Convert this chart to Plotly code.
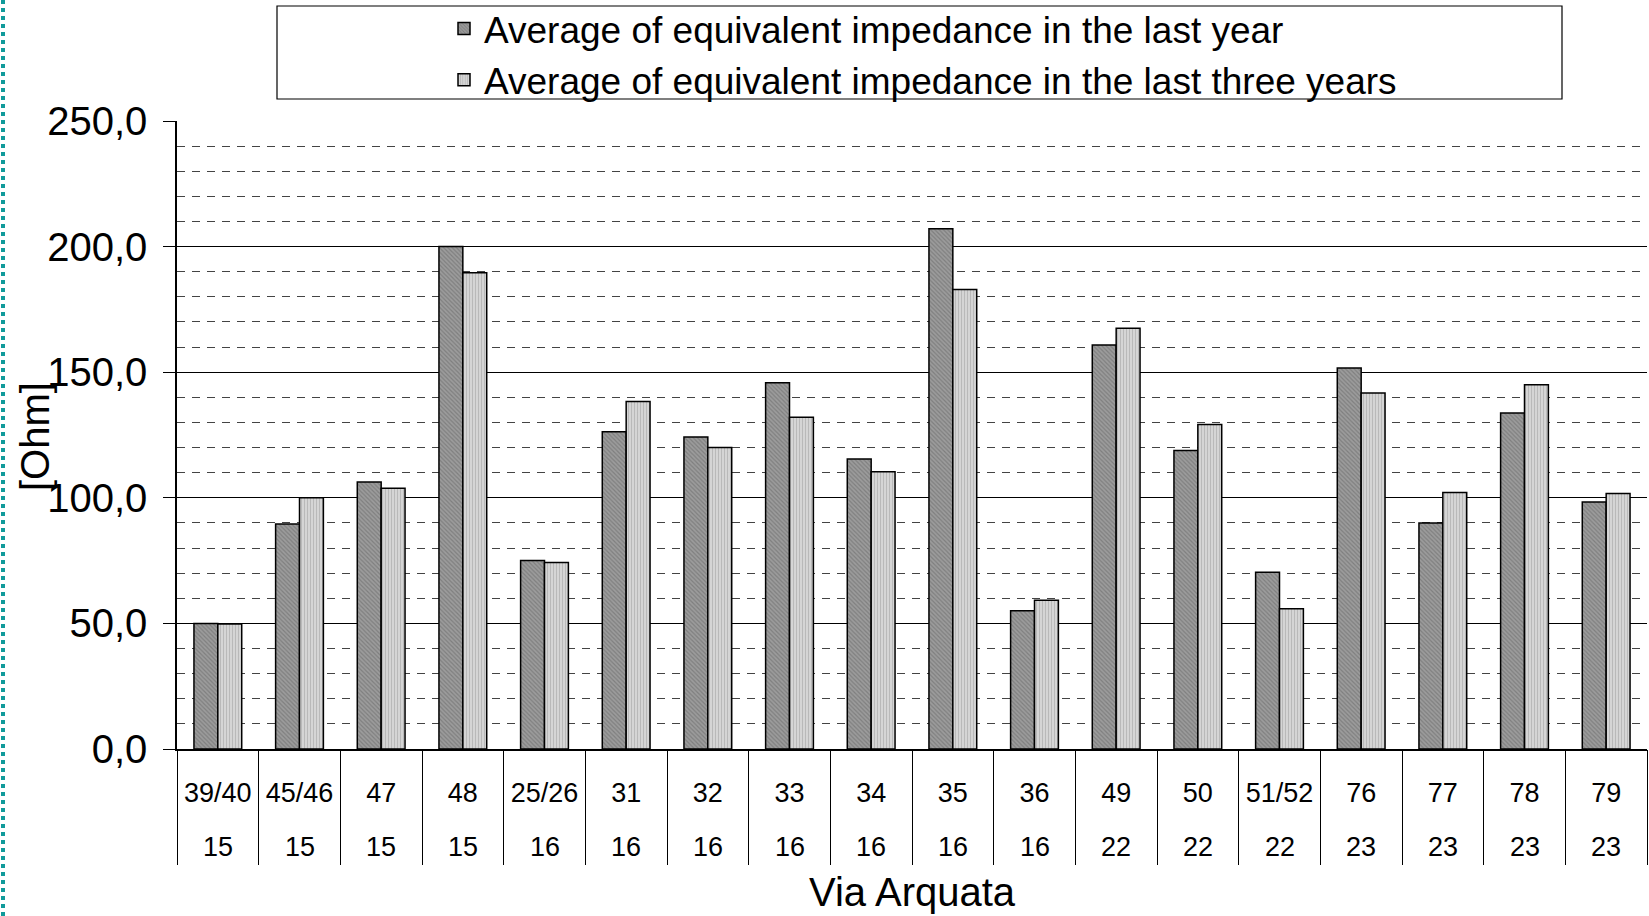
import plotly.graph_objects as go

# tower / span labels
towers = ["39/40", "45/46", "47", "48", "25/26", "31", "32", "33", "34",
          "35", "36", "49", "50", "51/52", "76", "77", "78", "79"]
lines = ["15", "15", "15", "15", "16", "16", "16", "16", "16",
         "16", "16", "22", "22", "22", "23", "23", "23", "23"]

last_year = [50.0, 89.6, 106.3, 200.0, 75.0, 126.3, 124.2, 145.8, 115.4,
             207.1, 55.0, 160.8, 118.8, 70.4, 151.7, 90.0, 133.8, 98.3]
last_three = [49.8, 100.0, 103.8, 189.6, 74.2, 138.3, 120.0, 132.1, 110.4,
              182.9, 59.2, 167.5, 129.2, 55.8, 141.7, 102.1, 145.0, 101.7]

name1 = "Average of equivalent impedance in the last year"
name2 = "Average of equivalent impedance in the last three years"

FONT = "Arial, Liberation Sans, sans-serif"
W, H = 1649, 916
L, R, T, B = 177, 2, 121, 167
pw, ph = W - L - R, H - T - B


def px_x(p):
    return (p - L) / pw


def px_y(p):
    return (H - B - p) / ph


fig = go.Figure()
fig.add_trace(go.Bar(
    x=towers, y=last_year, name=name1,
    marker=dict(color="#8a8a8a", line=dict(color="black", width=1.5),
                pattern=dict(shape="\\", size=3, solidity=0.4,
                             fgcolor="#626262", bgcolor="#9c9c9c")),
))
fig.add_trace(go.Bar(
    x=towers, y=last_three, name=name2,
    marker=dict(color="#c8c8c8", line=dict(color="black", width=1.5),
                pattern=dict(shape="|", size=3, solidity=0.4,
                             fgcolor="#9a9a9a", bgcolor="#d8d8d8")),
))
# invisible trace so the separator axis gets drawn
fig.add_trace(go.Scatter(
    x=towers, y=last_year, xaxis="x2", mode="markers",
    marker=dict(opacity=0), showlegend=False, hoverinfo="skip",
))

# second row of category labels (line numbers)
for i, l in enumerate(lines):
    fig.add_annotation(x=i, y=px_y(847), xref="x", yref="paper", text=l,
                       showarrow=False, yanchor="middle",
                       font=dict(family=FONT, size=27, color="black"))

fig.add_annotation(x=0.5, y=px_y(892), xref="paper", yref="paper",
                   text="Via Arquata", showarrow=False, yanchor="middle",
                   font=dict(family=FONT, size=40, color="black"))
fig.add_annotation(x=px_x(35), y=px_y(437), xref="paper", yref="paper",
                   text="[Ohm]", textangle=-90, showarrow=False,
                   xanchor="center", yanchor="middle",
                   font=dict(family=FONT, size=40, color="black"))

# legend frame and page edge
fig.add_shape(type="rect", xref="paper", yref="paper",
              x0=px_x(277), x1=px_x(1562), y0=px_y(99), y1=px_y(6),
              line=dict(color="black", width=1.2), fillcolor="white", layer="below")
fig.add_shape(type="line", xref="paper", yref="paper",
              x0=px_x(3), x1=px_x(3), y0=px_y(916), y1=px_y(0),
              line=dict(color="#109a9a", width=4, dash="4px,4px"))

fig.update_layout(
    width=W, height=H,
    margin=dict(l=L, r=R, t=T, b=B, autoexpand=False),
    paper_bgcolor="white", plot_bgcolor="white",
    separators=",.",
    barmode="group", bargap=0.415, bargroupgap=0,
    font=dict(family=FONT, color="black"),
    legend=dict(x=px_x(444), y=px_y(-2), xanchor="left", yanchor="top",
                bgcolor="rgba(0,0,0,0)", borderwidth=0,
                font=dict(family=FONT, size=37, color="black"),
                tracegroupgap=0),
    xaxis=dict(type="category", categoryarray=towers, range=[-0.5, 17.5],
               showline=True, linecolor="black", linewidth=1.5,
               ticks="", showgrid=False, ticklabelstandoff=19,
               tickfont=dict(family=FONT, size=27, color="black")),
    xaxis2=dict(type="category", categoryarray=towers, range=[-0.5, 17.5],
                overlaying="x", anchor="y", side="bottom",
                ticks="outside", tickson="boundaries", ticklen=115,
                tickcolor="black", tickwidth=1, showticklabels=False,
                showgrid=False, showline=False, zeroline=False),
    yaxis=dict(range=[0, 250], dtick=50, tickformat=".1f",
               showline=True, linecolor="black", linewidth=1.5,
               ticks="outside", ticklen=12, tickcolor="black",
               ticklabelstandoff=8,
               showgrid=True, gridcolor="black", gridwidth=1,
               zeroline=False,
               tickfont=dict(family=FONT, size=40, color="black"),
               minor=dict(dtick=10, showgrid=True, gridcolor="#444444",
                          gridwidth=1, griddash="8px,7px", ticks="")),
)

fig.write_html("out.html", config={"displayModeBar": False},
               post_script="document.body.style.margin='0';")
